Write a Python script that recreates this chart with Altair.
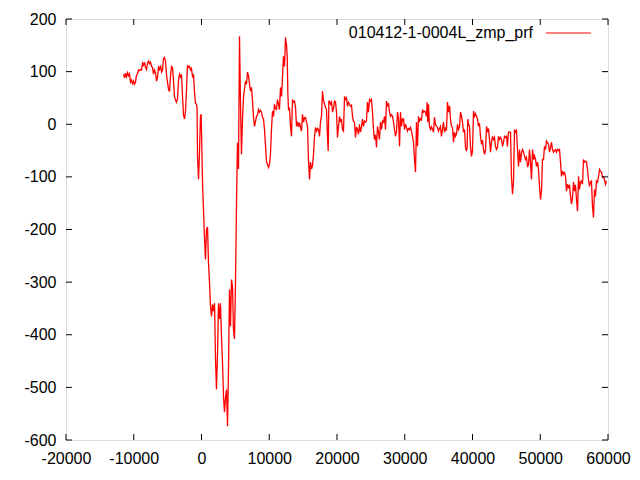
import altair as alt
import pandas as pd

series_name = "010412-1-0004L_zmp_prf"

xs = [-11510, -11365, -11220, -11070, -10920, -10780, -10630, -10480, -10330, -10180,
      -10040, -9890, -9740, -9600, -9450, -9300, -9150, -9010, -8860, -8710,
      -8560, -8420, -8270, -8120, -7970, -7830, -7680, -7530, -7380, -7230,
      -7090, -6940, -6790, -6640, -6500, -6350, -6200, -6050, -5900, -5760,
      -5610, -5460, -5310, -5170, -5020, -4870, -4720, -4580, -4430, -4280,
      -4130, -3990, -3840, -3690, -3540, -3400, -3250, -3100, -2950, -2800,
      -2660, -2510, -2360, -2210, -2070, -1920, -1770, -1620, -1480, -1330,
      -1180, -1030, -890, -740, -650, -590, -440, -300, -150, -50,
      0, 150, 300, 440, 590, 740, 890, 1030, 1180, 1330,
      1480, 1620, 1770, 1920, 2070, 2210, 2360, 2510, 2660, 2800,
      2950, 3100, 3250, 3390, 3540, 3690, 3840, 3990, 4130, 4280,
      4430, 4580, 4720, 4870, 5020, 5170, 5310, 5460, 5610, 5760,
      5900, 6050, 6200, 6350, 6490, 6640, 6790, 6940, 7090, 7230,
      7380, 7530, 7680, 7820, 7970, 8120, 8270, 8410, 8560, 8710,
      8860, 9000, 9150, 9300, 9450, 9600, 9740, 9890, 10040, 10180,
      10330, 10480, 10630, 10770, 10920, 11070, 11220, 11370, 11510, 11660,
      11810, 11960, 12100, 12250, 12400, 12550, 12650, 12750, 12840, 12990,
      13140, 13280, 13430, 13580, 13730, 13880, 14020, 14170, 14320, 14470,
      14610, 14760, 14910, 15060, 15200, 15350, 15500, 15650, 15790, 15940,
      16090, 16240, 16390, 16530, 16680, 16830, 16980, 17120, 17270, 17420,
      17570, 17710, 17860, 18010, 18160, 18300, 18450, 18600, 18700, 18800,
      18890, 19040, 19190, 19340, 19480, 19630, 19780, 19930, 20070, 20220,
      20370, 20520, 20660, 20810, 20960, 21110, 21250, 21400, 21550, 21700,
      21840, 21990, 22140, 22290, 22430, 22580, 22730, 22880, 23020, 23170,
      23320, 23470, 23620, 23760, 23910, 24060, 24210, 24350, 24500, 24650,
      24800, 24940, 25090, 25240, 25390, 25530, 25680, 25830, 25980, 26120,
      26270, 26420, 26570, 26720, 26860, 27010, 27160, 27310, 27450, 27600,
      27750, 27900, 28040, 28190, 28340, 28490, 28630, 28780, 28930, 29080,
      29230, 29370, 29520, 29670, 29820, 29960, 30110, 30260, 30410, 30550,
      30700, 30850, 31000, 31140, 31290, 31440, 31590, 31730, 31880, 32030,
      32180, 32330, 32470, 32620, 32770, 32920, 33060, 33210, 33300, 33400,
      33510, 33650, 33800, 33950, 34100, 34240, 34390, 34540, 34690, 34830,
      34980, 35130, 35280, 35420, 35570, 35720, 35870, 36020, 36160, 36310,
      36460, 36610, 36750, 36900, 37050, 37200, 37340, 37490, 37640, 37790,
      37930, 38080, 38230, 38380, 38520, 38670, 38820, 38970, 39110, 39200,
      39300, 39410, 39560, 39700, 39850, 40000, 40150, 40290, 40440, 40590,
      40740, 40880, 41030, 41180, 41330, 41470, 41620, 41770, 41920, 42070,
      42210, 42360, 42510, 42660, 42800, 42950, 43100, 43250, 43390, 43540,
      43690, 43840, 43980, 44130, 44280, 44430, 44570, 44720, 44870, 45020,
      45160, 45310, 45460, 45610, 45750, 45900, 46050, 46200, 46350, 46490,
      46640, 46790, 46940, 47080, 47230, 47380, 47530, 47680, 47820, 47970,
      48120, 48270, 48410, 48560, 48710, 48860, 49010, 49150, 49300, 49450,
      49600, 49740, 49890, 50040, 50190, 50330, 50480, 50630, 50780, 50920,
      51070, 51220, 51370, 51510, 51660, 51810, 51960, 52110, 52250, 52400,
      52550, 52700, 52840, 52990, 53140, 53290, 53430, 53580, 53730, 53880,
      54020, 54170, 54320, 54470, 54610, 54760, 54910, 55060, 55200, 55350,
      55500, 55650, 55790, 55940, 56090, 56240, 56380, 56530, 56680, 56830,
      56970, 57120, 57270, 57420, 57560, 57710, 57860, 58010, 58150, 58300,
      58450, 58600, 58750, 58890, 59040, 59190, 59340, 59480, 59630, 59780]

ys = [95, 88, 97, 90, 98, 92, 96, 80, 84, 77,
      82, 76, 80, 93, 96, 103, 102, 104, 103, 116,
      112, 118, 108, 104, 116, 120, 115, 118, 110, 108,
      95, 103, 98, 82, 88, 108, 104, 112, 99, 102,
      125, 127, 120, 95, 80, 67, 62, 90, 110, 108,
      82, 53, 46, 42, 48, 82, 95, 90, 95, 53,
      18, 10, 25, 67, 112, 108, 110, 103, 106, 91,
      95, 60, 40, 38, 30, -60, -105, -55, 15, 19,
      -10, -110, -165, -215, -257, -200, -195, -262, -300, -346,
      -365, -342, -355, -340, -447, -504, -440, -340, -370, -340,
      -405, -452, -517, -547, -520, -504, -574, -460, -314, -384,
      -295, -310, -390, -408, -298, -148, -35, -85, 167, 38,
      -57, 10, 51, 67, 82, 76, 99, 92, 76, 63,
      70, 44, 13, -4, 5, 15, 18, 28, 23, 26,
      23, 13, 10, -10, -42, -72, -76, -82, -76, -57,
      -10, 25, 15, 38, 30, 28, 47, 38, 28, 70,
      53, 91, 129, 110, 165, 150, 129, 57, 28, 30,
      -4, -23, 47, 42, 44, 32, -4, 5, -5, 3,
      -6, -13, 19, 4, 12, 13, 4, -4, -67, -105,
      -72, -85, -78, -57, -23, -6, -13, -8, -10, -23,
      6, 15, 63, 45, 38, 32, 28, -25, -51, 44,
      44, 38, 42, 23, 30, 44, 42, 23, -25, -5,
      15, 4, 10, -10, -13, 53, 47, 50, 34, 42,
      38, 34, 36, 15, 6, 4, -25, -5, -10, -19,
      0, -15, -5, 10, -4, 6, 4, 6, 42, 23,
      47, 44, 47, 23, -10, -29, -20, -44, -4, -15,
      -29, 4, -10, 6, 4, 15, -10, 44, 34, 40,
      23, 15, 18, 15, 4, -10, -23, -15, 23, 10,
      -42, 23, -4, 10, 10, -10, 0, -6, -13, -8,
      -10, -6, -13, -23, -34, -67, -91, 4, -42, 15,
      6, 10, 8, 28, 23, 25, 23, 15, 42, 4,
      38, -4, -10, -5, -10, -15, 13, 0, -4, -6,
      -13, -8, -4, -23, -10, 4, -15, -8, -12, 42,
      23, 35, 10, -4, -6, -34, -15, -23, -18, 0,
      -10, -5, 23, 15, 4, -15, -10, -44, -51, -46,
      10, 0, -4, -42, -61, -50, 25, 15, 20, 15,
      10, -4, 2, -23, -38, -30, -48, -57, -50, -4,
      -15, -8, -29, -53, -35, -23, -29, -25, -42, -48,
      -44, -23, -29, -25, -29, -42, -35, -23, -25, -23,
      -42, -15, -15, -15, -99, -133, -110, -10, -15, -12,
      -48, -80, -48, -72, -55, -48, -53, -61, -67, -63,
      -80, -78, -48, -72, -105, -48, -67, -60, -67, -80,
      -72, -86, -118, -143, -125, -67, -67, -42, -48, -32,
      -35, -38, -53, -45, -34, -48, -53, -50, -48, -53,
      -48, -50, -48, -72, -99, -89, -95, -92, -99, -127,
      -114, -120, -115, -137, -152, -140, -110, -127, -115, -143,
      -165, -99, -124, -110, -108, -114, -67, -72, -70, -72,
      -86, -105, -118, -110, -108, -156, -177, -124, -137, -108,
      -110, -100, -86, -89, -91, -101, -100, -105, -114, -108]

x_ticks = [-20000, -10000, 0, 10000, 20000, 30000, 40000, 50000, 60000]
y_ticks = [-600, -500, -400, -300, -200, -100, 0, 100, 200]

df = pd.DataFrame({"x": xs, "y": ys})
dfx = pd.DataFrame({"v": x_ticks})
dfy = pd.DataFrame({"v": y_ticks})

FONT = "Liberation Sans"
W, H = 542, 421

xscale = alt.Scale(domain=[-20000, 60000], nice=False, zero=False)
yscale = alt.Scale(domain=[-600, 200], nice=False, zero=False)
xaxis = alt.Axis(values=x_ticks, ticks=False, domain=False, grid=False,
                 labelExpr="'' + datum.value",
                 labelFont=FONT, labelFontSize=16, labelColor="black",
                 labelPadding=10, labelFlush=False, labelOverlap=False)
yaxis = alt.Axis(values=y_ticks, ticks=False, domain=False, grid=False,
                 labelExpr="'' + datum.value",
                 labelFont=FONT, labelFontSize=16, labelColor="black",
                 labelPadding=10, labelFlush=False, labelOverlap=False)

line = alt.Chart(df).mark_line(color="#ff0000", strokeWidth=1.3, clip=True).encode(
    x=alt.X("x:Q", scale=xscale, title=None, axis=xaxis),
    y=alt.Y("y:Q", scale=yscale, title=None, axis=yaxis),
    order="x:Q",
)

tick_len = 6
xb = alt.Chart(dfx).mark_rule(color="black", strokeWidth=1).encode(
    x=alt.X("v:Q", scale=xscale, title=None, axis=xaxis), y=alt.value(H), y2=alt.value(H - tick_len))
xt = alt.Chart(dfx).mark_rule(color="black", strokeWidth=1).encode(
    x=alt.X("v:Q", scale=xscale, title=None, axis=xaxis), y=alt.value(0), y2=alt.value(tick_len))
yl = alt.Chart(dfy).mark_rule(color="black", strokeWidth=1).encode(
    y=alt.Y("v:Q", scale=yscale, title=None, axis=yaxis), x=alt.value(0), x2=alt.value(tick_len))
yr = alt.Chart(dfy).mark_rule(color="black", strokeWidth=1).encode(
    y=alt.Y("v:Q", scale=yscale, title=None, axis=yaxis), x=alt.value(W), x2=alt.value(W - tick_len))

leg_df = pd.DataFrame({"name": [series_name]})
leg_text = alt.Chart(leg_df).mark_text(
    align="right", baseline="middle", font=FONT, fontSize=16, color="black"
).encode(text="name:N", x=alt.value(467), y=alt.value(14))
leg_line = alt.Chart(leg_df).mark_rule(color="#ff0000", strokeWidth=1).encode(
    x=alt.value(480), x2=alt.value(525), y=alt.value(14))

chart = alt.layer(line, xb, xt, yl, yr, leg_text, leg_line).properties(
    width=W, height=H,
    autosize=alt.AutoSizeParams(type="none"),
    padding={"left": 58, "top": 11, "right": 24, "bottom": 32},
).configure_view(stroke="black", strokeWidth=1).configure(background="white")

chart.save("out.html", embed_options={"renderer": "svg", "actions": False})
